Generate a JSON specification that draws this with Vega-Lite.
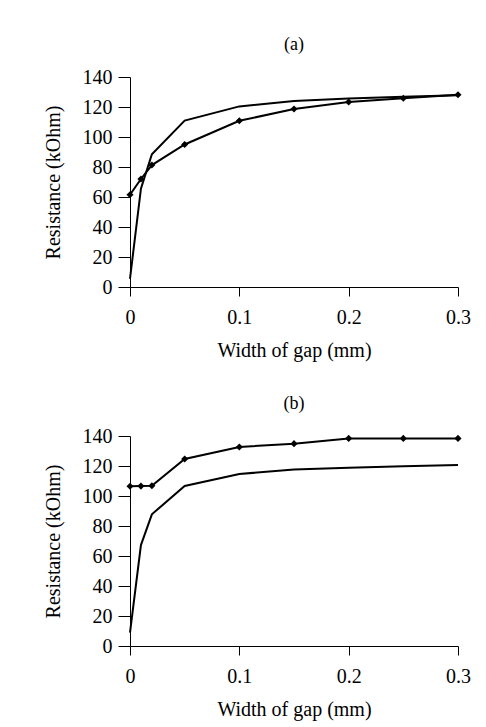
{
  "$schema": "https://vega.github.io/schema/vega-lite/v6.json",
  "background": "white",
  "padding": {"left": 43, "top": 36, "right": 10, "bottom": 5},
  "spacing": 35,
  "datasets": {
    "a": [
      {"gap": 0, "r": 61.5, "s": "m"}, {"gap": 0.01, "r": 72, "s": "m"}, {"gap": 0.02, "r": 81.3, "s": "m"},
      {"gap": 0.05, "r": 95, "s": "m"}, {"gap": 0.1, "r": 110.8, "s": "m"}, {"gap": 0.15, "r": 118.7, "s": "m"},
      {"gap": 0.2, "r": 123.3, "s": "m"}, {"gap": 0.25, "r": 125.8, "s": "m"}, {"gap": 0.3, "r": 128.2, "s": "m"},
      {"gap": 0, "r": 5.5, "s": "c"}, {"gap": 0.01, "r": 65.5, "s": "c"}, {"gap": 0.02, "r": 88.5, "s": "c"},
      {"gap": 0.05, "r": 110.9, "s": "c"}, {"gap": 0.1, "r": 120.4, "s": "c"}, {"gap": 0.15, "r": 124, "s": "c"},
      {"gap": 0.2, "r": 125.7, "s": "c"}, {"gap": 0.25, "r": 126.8, "s": "c"}, {"gap": 0.3, "r": 127.8, "s": "c"}
    ],
    "b": [
      {"gap": 0, "r": 106.5, "s": "m"}, {"gap": 0.01, "r": 106.6, "s": "m"}, {"gap": 0.02, "r": 106.8, "s": "m"},
      {"gap": 0.05, "r": 124.7, "s": "m"}, {"gap": 0.1, "r": 132.7, "s": "m"}, {"gap": 0.15, "r": 134.9, "s": "m"},
      {"gap": 0.2, "r": 138.4, "s": "m"}, {"gap": 0.25, "r": 138.4, "s": "m"}, {"gap": 0.3, "r": 138.4, "s": "m"},
      {"gap": 0, "r": 8.9, "s": "c"}, {"gap": 0.01, "r": 67.3, "s": "c"}, {"gap": 0.02, "r": 87.8, "s": "c"},
      {"gap": 0.05, "r": 106.7, "s": "c"}, {"gap": 0.1, "r": 114.7, "s": "c"}, {"gap": 0.15, "r": 117.6, "s": "c"},
      {"gap": 0.2, "r": 118.9, "s": "c"}, {"gap": 0.25, "r": 119.8, "s": "c"}, {"gap": 0.3, "r": 120.7, "s": "c"}
    ]
  },
  "vconcat": [
    {
      "title": "(a)",
      "width": 328,
      "height": 210,
      "data": {"name": "a"},
      "encoding": {
        "x": {"field": "gap", "type": "quantitative", "title": "Width of gap (mm)", "scale": {"domain": [0, 0.3], "nice": false}, "axis": {"values": [0, 0.1, 0.2, 0.3], "format": "~g"}},
        "y": {"field": "r", "type": "quantitative", "title": "Resistance (kOhm)", "scale": {"domain": [0, 140], "nice": false}, "axis": {"values": [0, 20, 40, 60, 80, 100, 120, 140]}}
      },
      "layer": [
        {
          "mark": {"type": "line", "color": "black", "strokeWidth": 2},
          "encoding": {"detail": {"field": "s"}}
        },
        {
          "transform": [{"filter": "datum.s === 'm'"}],
          "mark": {"type": "point", "shape": "diamond", "filled": true, "color": "black", "size": 50, "opacity": 1}
        }
      ]
    },
    {
      "title": "(b)",
      "width": 328,
      "height": 210,
      "data": {"name": "b"},
      "encoding": {
        "x": {"field": "gap", "type": "quantitative", "title": "Width of gap (mm)", "scale": {"domain": [0, 0.3], "nice": false}, "axis": {"values": [0, 0.1, 0.2, 0.3], "format": "~g"}},
        "y": {"field": "r", "type": "quantitative", "title": "Resistance (kOhm)", "scale": {"domain": [0, 140], "nice": false}, "axis": {"values": [0, 20, 40, 60, 80, 100, 120, 140]}}
      },
      "layer": [
        {
          "mark": {"type": "line", "color": "black", "strokeWidth": 2},
          "encoding": {"detail": {"field": "s"}}
        },
        {
          "transform": [{"filter": "datum.s === 'm'"}],
          "mark": {"type": "point", "shape": "diamond", "filled": true, "color": "black", "size": 50, "opacity": 1}
        }
      ]
    }
  ],
  "config": {
    "font": "Liberation Serif",
    "view": {"stroke": null},
    "title": {"fontSize": 18, "fontWeight": "normal", "color": "black", "offset": 13, "font": "Liberation Serif"},
    "axis": {
      "grid": false,
      "domainColor": "black",
      "tickColor": "black",
      "labelColor": "black",
      "titleColor": "black",
      "labelFont": "Liberation Serif",
      "titleFont": "Liberation Serif",
      "labelFontSize": 20,
      "titleFontSize": 20,
      "titleFontWeight": "normal",
      "labelOverlap": false,
      "labelBound": false
    },
    "axisX": {"tickSize": 9, "labelPadding": 11, "titlePadding": 13, "labelFlush": false},
    "axisY": {"tickSize": 12, "labelPadding": 6, "titlePadding": 19}
  }
}
